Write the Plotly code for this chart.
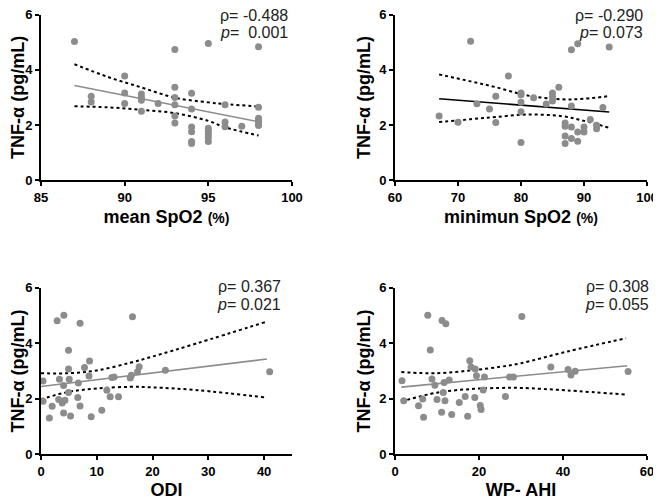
import plotly.graph_objects as go
from plotly.subplots import make_subplots

# --- data ---
mean_spo2 = [87, 88, 88, 90, 90, 90, 91, 91, 91, 91, 92, 93, 93, 93, 93, 93, 93,
             94, 94, 94, 94, 94, 94, 95, 95, 95, 95, 95, 95, 96, 96, 96, 97,
             98, 98, 98, 98, 98, 98]
tnf_mean = [5.02, 3.04, 2.83, 3.77, 3.16, 2.78, 3.12, 3.0, 2.9, 2.5, 2.78, 4.73, 3.37,
            3.0, 2.73, 2.33, 2.07, 3.15, 2.58, 1.93, 1.76, 1.40, 1.33, 4.95, 1.88,
            1.78, 1.68, 1.55, 1.40, 2.73, 2.11, 1.94, 1.96, 4.83, 2.64, 2.25, 2.14,
            2.05, 1.98]

min_spo2 = [67, 70, 72, 73, 75, 76, 76, 78, 80, 80, 80, 80, 80, 82, 84, 85, 85, 85,
            86, 87, 87, 87, 87, 88, 88, 88, 88, 89, 89, 89, 90, 90, 91, 92, 92, 93, 94]
tnf_min = [2.33, 2.10, 5.03, 2.77, 2.58, 3.04, 2.09, 3.77, 3.16, 3.10, 2.82, 2.48,
           1.37, 2.99, 2.76, 3.16, 3.01, 2.87, 3.37, 2.07, 1.96, 1.60, 1.33, 4.72,
           2.69, 1.93, 1.51, 4.94, 1.75, 1.41, 1.93, 1.75, 2.20, 1.99, 1.87, 2.63, 4.82]

odi = [0.36, 0.36, 1.5, 2.0, 2.9, 4.1, 3.3, 4.05, 3.16, 3.8, 4.3, 4.05, 4.94, 4.94,
       5.06, 4.94, 5.3, 7.0, 6.7, 6.6, 7.0, 7.8, 8.7, 8.6, 9.0, 10.9, 11.8, 12.4,
       12.7, 13.1, 13.9, 16.4, 16.0, 16.2, 17.3, 17.6, 22.3, 41.0]
tnf_odi = [2.64, 1.91, 1.31, 1.73, 4.81, 5.01, 2.70, 2.48, 1.97, 1.85, 1.95, 1.49,
           3.75, 3.07, 2.70, 2.23, 1.38, 4.72, 2.57, 2.05, 1.74, 3.13, 3.36, 2.82,
           1.35, 1.59, 2.31, 2.07, 2.77, 2.78, 2.07, 4.95, 2.75, 2.85, 2.97, 3.15,
           3.03, 2.97]

ahi = [1.66, 2.07, 5.6, 6.6, 6.8, 7.8, 8.4, 8.8, 9.5, 10.0, 11.2, 12.1, 11.1, 11.5,
       11.9, 11.7, 12.9, 13.5, 15.3, 16.7, 17.3, 17.8, 18.1, 19.1, 19.4, 19.0, 20.3,
       20.5, 21.3, 21.0, 26.3, 27.3, 28.2, 30.2, 37.1, 41.2, 41.9, 42.9, 55.5]
tnf_ahi = [2.65, 1.93, 1.75, 1.99, 1.33, 5.01, 3.76, 2.71, 2.49, 1.97, 4.82, 4.70,
           1.51, 2.23, 1.93, 2.59, 2.68, 1.43, 1.87, 2.08, 1.37, 3.37, 3.14, 3.07,
           2.83, 2.05, 1.76, 1.61, 2.78, 2.32, 2.08, 2.78, 2.78, 4.96, 3.14, 3.05,
           2.86, 2.99, 2.98]

# regression lines and 95% bands (as drawn)
fit1_x, fit1_y = [87, 98], [3.43, 2.12]
ci1_x = [87, 89, 91, 93, 95, 96, 98]
ci1_hi = [4.20, 3.74, 3.36, 2.99, 2.82, 2.76, 2.67]
ci1_lo = [2.68, 2.64, 2.55, 2.43, 2.15, 1.92, 1.62]

fit2_x, fit2_y = [67, 94], [2.95, 2.47]
ci2_x = [67, 72, 76, 81, 86.5, 90, 94]
ci2_hi = [3.83, 3.58, 3.37, 3.07, 2.93, 2.95, 3.05]
ci2_lo = [2.11, 2.21, 2.29, 2.38, 2.32, 2.15, 1.90]

fit3_x, fit3_y = [0, 40.5], [2.44, 3.43]
ci3_x = [0, 5, 10, 16, 20, 28, 40.5]
ci3_hi = [2.92, 2.92, 3.02, 3.30, 3.52, 4.00, 4.78]
ci3_lo = [1.98, 2.25, 2.37, 2.43, 2.41, 2.31, 2.04]

fit4_x, fit4_y = [1.5, 55.3], [2.42, 3.19]
ci4_x = [1.5, 10, 18, 25, 30, 41, 55]
ci4_hi = [2.96, 2.92, 3.02, 3.15, 3.28, 3.70, 4.18]
ci4_lo = [1.90, 2.22, 2.35, 2.39, 2.39, 2.30, 2.15]

stats = [("-0.488", " 0.001"), ("-0.290", "0.073"), ("0.367", "0.021"), ("0.308", "0.055")]
xtitles = ["<b>mean SpO2</b> <span style='font-size:14px'><b>(%)</b></span>",
           "<b>minimun SpO2</b> <span style='font-size:14px'><b>(%)</b></span>",
           "<b>ODI</b>", "<b>WP- AHI</b>"]

FONT = "Arial, Liberation Sans, sans-serif"
DOT = "#8c8c8c"

# page body has an 8px margin, so the figure is drawn 8px smaller and shifted
OFF = 8
W, H = 661 - OFF, 500 - OFF


def px_x(v):
    return (v - OFF) / W


def px_y(v):
    return 1 - (v - OFF) / H


fig = make_subplots(rows=2, cols=2)

panels = [
    (1, 1, mean_spo2, tnf_mean, fit1_x, fit1_y, "#8c8c8c", ci1_x, ci1_hi, ci1_lo),
    (1, 2, min_spo2, tnf_min, fit2_x, fit2_y, "black", ci2_x, ci2_hi, ci2_lo),
    (2, 1, odi, tnf_odi, fit3_x, fit3_y, "#8c8c8c", ci3_x, ci3_hi, ci3_lo),
    (2, 2, ahi, tnf_ahi, fit4_x, fit4_y, "#8c8c8c", ci4_x, ci4_hi, ci4_lo),
]
for r, c, xs, ys, fx, fy, fcol, cx, chi, clo in panels:
    fig.add_trace(go.Scatter(x=cx, y=chi, mode="lines", line_shape="spline",
                             line=dict(color="black", width=2, dash="dot")), row=r, col=c)
    fig.add_trace(go.Scatter(x=cx, y=clo, mode="lines", line_shape="spline",
                             line=dict(color="black", width=2, dash="dot")), row=r, col=c)
    fig.add_trace(go.Scatter(x=fx, y=fy, mode="lines",
                             line=dict(color=fcol, width=1.6)), row=r, col=c)
    fig.add_trace(go.Scatter(x=xs, y=ys, mode="markers",
                             marker=dict(color=DOT, size=7)), row=r, col=c)

xdom = [[px_x(41), px_x(292)], [px_x(395), px_x(647)]]
ydom = [[px_y(180.3), px_y(14.5)], [px_y(454.3), px_y(287.7)]]
xranges = [[85, 100], [60, 100], [0, 45], [0, 60]]
xdticks = [5, 10, 10, 20]

axis_common = dict(showgrid=False, zeroline=False, showline=True, linecolor="black",
                   linewidth=2, ticks="outside", ticklen=4, tickwidth=2, tickcolor="black",
                   automargin=False, ticklabeloverflow="allow",
                   tickfont=dict(family=FONT, size=13, color="black", weight="bold"))

for i in range(4):
    r, c = divmod(i, 2)
    fig.update_xaxes(domain=xdom[c], range=xranges[i], dtick=xdticks[i],
                     title=dict(text=xtitles[i], standoff=6,
                                font=dict(family=FONT, size=18, color="black")),
                     row=r + 1, col=c + 1, **axis_common)
    fig.update_yaxes(domain=ydom[r], range=[0, 6], dtick=2,
                     title=dict(text="<b>TNF-α (pg/mL)</b>", standoff=4,
                                font=dict(family=FONT, size=18, color="black")),
                     row=r + 1, col=c + 1, **axis_common)

ann_pos = [(290, 15, 32), (645, 15, 32), (283, 286, 304), (651, 286, 304)]
for (rho, pv), (xr, y1, y2) in zip(stats, ann_pos):
    fig.add_annotation(x=px_x(xr), y=px_y(y1), xref="paper", yref="paper",
                       xanchor="right", yanchor="middle", showarrow=False,
                       text="ρ= " + rho, font=dict(family=FONT, size=16, color="#222"))
    fig.add_annotation(x=px_x(xr), y=px_y(y2), xref="paper", yref="paper",
                       xanchor="right", yanchor="middle", showarrow=False,
                       text="<i>p</i>= " + pv, font=dict(family=FONT, size=16, color="#222"))

fig.update_layout(width=W, height=H, margin=dict(l=0, r=0, t=0, b=0),
                  paper_bgcolor="white", plot_bgcolor="white", showlegend=False,
                  font=dict(family=FONT))

fig.write_html("out.html")
